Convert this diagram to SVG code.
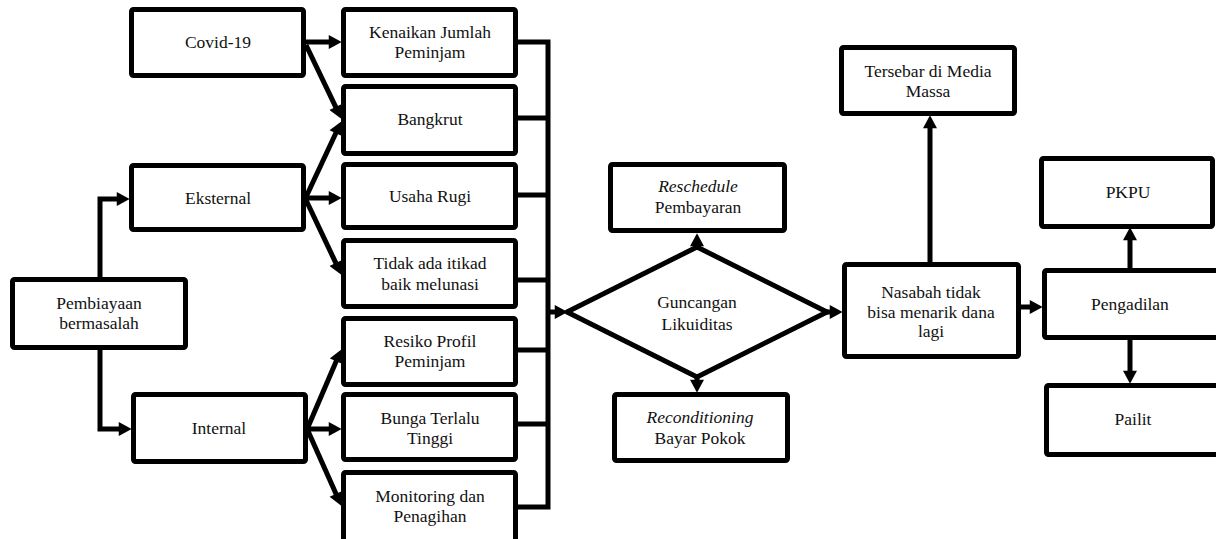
<svg xmlns="http://www.w3.org/2000/svg" width="1216" height="539" viewBox="0 0 1216 539">
<style>
.box{fill:#fff;stroke:#000;stroke-width:5;stroke-linejoin:round}
.t{font-family:"Liberation Serif",serif;font-size:17.5px;fill:#111;text-anchor:middle}
.i{font-style:italic}
.c{fill:none;stroke:#000;stroke-width:5;stroke-linejoin:miter}
.a{fill:none;stroke:#000;stroke-width:5;marker-end:url(#ah)}
</style>
<defs>
<marker id="ah" markerUnits="userSpaceOnUse" markerWidth="14" markerHeight="14" refX="3" refY="6.5" orient="auto" viewBox="0 0 12 13">
<path d="M0,0 L12,6.5 L0,13 z" fill="#000"/>
</marker>
</defs>
<rect width="1216" height="539" fill="#fff"/>

<g id="connectors">
<path class="a" d="M100,277 V199 H120"/>
<path class="a" d="M100,350 V429 H122"/>
<path class="a" d="M306,42 H332"/>
<path class="a" d="M306,45 L337.1,109.9"/>
<path class="a" d="M306,197 L337.2,130.2"/>
<path class="a" d="M306,198 H332"/>
<path class="a" d="M306,200 L337.2,265.9"/>
<path class="a" d="M308,427 L337.5,358.3"/>
<path class="a" d="M308,429 H332"/>
<path class="a" d="M308,431 L337.3,496.8"/>
<path class="c" d="M518,42 H548 V507 H518 M518,118 H548 M518,195 H548 M518,280 H548 M518,350 H548 M518,424 H548"/>
<path class="a" d="M548,312 H558"/>
<path class="a" d="M697,250 V243"/>
<path class="a" d="M697,374 V383"/>
<path class="a" d="M827,312 H833"/>
<path class="a" d="M930,262 V125"/>
<path class="a" d="M1021,307 H1033"/>
<path class="a" d="M1130,268 V237"/>
<path class="a" d="M1130,339 V374"/>
</g>

<g id="covid"><rect class="box" x="131.5" y="9.5" width="172" height="66" rx="2"/><text class="t" x="218" y="48">Covid-19</text></g>
<g id="eksternal"><rect class="box" x="131.5" y="165.5" width="172" height="64" rx="2"/><text class="t" x="218" y="204">Eksternal</text></g>
<g id="pembiayaan"><rect class="box" x="12.5" y="279.5" width="173" height="68" rx="2"/><text class="t" x="99" y="309">Pembiayaan</text><text class="t" x="99" y="329">bermasalah</text></g>
<g id="internal"><rect class="box" x="133.5" y="394.5" width="172" height="67" rx="2"/><text class="t" x="219" y="434">Internal</text></g>

<g id="kenaikan"><rect class="box" x="343.5" y="9.5" width="172" height="66" rx="2"/><text class="t" x="430" y="38">Kenaikan Jumlah</text><text class="t" x="430" y="58">Peminjam</text></g>
<g id="bangkrut"><rect class="box" x="343.5" y="86.5" width="172" height="67" rx="2"/><text class="t" x="430" y="125">Bangkrut</text></g>
<g id="usaha"><rect class="box" x="343.5" y="164.5" width="172" height="63" rx="2"/><text class="t" x="430" y="202">Usaha Rugi</text></g>
<g id="tidak"><rect class="box" x="343.5" y="240.5" width="172" height="66" rx="2"/><text class="t" x="430" y="269">Tidak ada itikad</text><text class="t" x="430" y="290">baik melunasi</text></g>
<g id="resiko"><rect class="box" x="343.5" y="318.5" width="172" height="66" rx="2"/><text class="t" x="430" y="347">Resiko Profil</text><text class="t" x="430" y="367">Peminjam</text></g>
<g id="bunga"><rect class="box" x="343.5" y="394.5" width="172" height="65" rx="2"/><text class="t" x="430" y="424">Bunga Terlalu</text><text class="t" x="430" y="444">Tinggi</text></g>
<g id="monitoring"><rect class="box" x="343.5" y="472.5" width="172" height="72" rx="2"/><text class="t" x="430" y="502">Monitoring dan</text><text class="t" x="430" y="522">Penagihan</text></g>

<g id="guncangan"><polygon class="box" points="567,312 697,247 827,312 697,377"/><text class="t" x="697" y="308">Guncangan</text><text class="t" x="697" y="330">Likuiditas</text></g>
<g id="reschedule"><rect class="box" x="610.5" y="164.5" width="174" height="66" rx="2"/><text class="t i" x="698" y="192">Reschedule</text><text class="t" x="698" y="213">Pembayaran</text></g>
<g id="reconditioning"><rect class="box" x="614.5" y="394.5" width="173" height="66" rx="2"/><text class="t i" x="700" y="423">Reconditioning</text><text class="t" x="700" y="444">Bayar Pokok</text></g>

<g id="tersebar"><rect class="box" x="841.5" y="47.5" width="173" height="66" rx="2"/><text class="t" x="928" y="77">Tersebar di Media</text><text class="t" x="928" y="97">Massa</text></g>
<g id="nasabah"><rect class="box" x="844.5" y="264.5" width="174" height="92" rx="2"/><text class="t" x="931" y="298">Nasabah tidak</text><text class="t" x="931" y="318">bisa menarik dana</text><text class="t" x="931" y="337">lagi</text></g>
<g id="pkpu"><rect class="box" x="1041.5" y="158.5" width="171" height="68" rx="2"/><text class="t" x="1128" y="198">PKPU</text></g>
<g id="pengadilan"><rect class="box" x="1044.5" y="270.5" width="174" height="67" rx="2"/><text class="t" x="1130" y="310">Pengadilan</text></g>
<g id="pailit"><rect class="box" x="1046.5" y="385.5" width="174" height="69" rx="2"/><text class="t" x="1133" y="425">Pailit</text></g>
</svg>
